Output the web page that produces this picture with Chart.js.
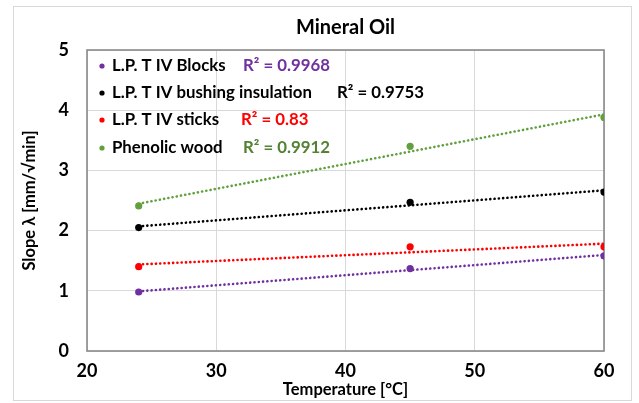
<!DOCTYPE html>
<html>
<head>
<meta charset="utf-8">
<script src="https://cdn.jsdelivr.net/npm/chart.js@4.4.1/dist/chart.umd.min.js"></script>
<style>
  html, body { margin: 0; padding: 0; background: #fff; }
  #frame {
    position: absolute; left: 13px; top: 6px; width: 619px; height: 395px;
    border: 1px solid #d9d9d9; box-sizing: border-box;
  }
  #wrap { position: absolute; left: 0; top: 0; width: 639px; height: 403px; }
</style>
</head>
<body>
<div id="frame"></div>
<div id="wrap"><canvas id="grafico" width="639" height="403"></canvas></div>
<script>
/* ===================== DATOS ===================== */

const temperaturas = [24, 45, 60];

const nombres = [
  "L.P. T IV Blocks",
  "L.P. T IV bushing insulation",
  "L.P. T IV sticks",
  "Phenolic wood"
];

const blocks   = [0.98, 1.37, 1.58];
const bushing  = [2.05, 2.47, 2.64];
const sticks   = [1.40, 1.73, 1.73];
const phenolic = [2.41, 3.40, 3.88];

const r2Labels = ["R² = 0.9968", "R² = 0.9753", "R² = 0.83", "R² = 0.9912"];

const xTicks = [20, 30, 40, 50, 60];
const yTicks = [0, 1, 2, 3, 4, 5];

/* ===================== ESTILO ===================== */

const colores   = ["#7030a0", "#000000", "#ff0000", "#62a03f"];
const coloresR2 = ["#7030a0", "#000000", "#ff0000", "#548235"];
const FUENTE = "Lato, 'Open Sans', sans-serif";

/* tendencia lineal (mínimos cuadrados, como Excel) */
function tendencia(xs, ys) {
  const n = xs.length;
  const mx = xs.reduce((a, b) => a + b, 0) / n;
  const my = ys.reduce((a, b) => a + b, 0) / n;
  let sxy = 0, sxx = 0;
  xs.forEach((x, i) => { sxy += (x - mx) * (ys[i] - my); sxx += (x - mx) ** 2; });
  const m = sxy / sxx;
  const b = my - m * mx;
  const x0 = xs[0], x1 = xs[n - 1];
  return [{ x: x0, y: m * x0 + b }, { x: x1, y: m * x1 + b }];
}

const series = [blocks, bushing, sticks, phenolic];

const datasets = [];
series.forEach((ys, i) => {
  datasets.push({
    type: "line",
    label: nombres[i] + " trend",
    data: tendencia(temperaturas, ys),
    borderColor: colores[i],
    borderWidth: 2.6,
    borderDash: [0.1, 4.2],
    borderCapStyle: "round",
    pointRadius: 0,
    fill: false,
    order: 2
  });
  datasets.push({
    type: "scatter",
    label: nombres[i],
    data: ys.map((y, k) => ({ x: temperaturas[k], y })),
    backgroundColor: colores[i],
    borderColor: colores[i],
    pointRadius: 3.6,
    pointBorderWidth: 0,
    order: 1
  });
});

/* ===================== PLUGINS ===================== */

const marco = {
  id: "marco",
  beforeDatasetsDraw(chart) {
    const { ctx, chartArea: a } = chart;
    ctx.save();
    ctx.strokeStyle = "#8a8a8a";
    ctx.lineWidth = 1.6;
    ctx.strokeRect(a.left, a.top, a.right - a.left, a.bottom - a.top);
    ctx.restore();
  }
};

const titulo = {
  id: "titulo",
  afterDraw(chart) {
    const { ctx, chartArea: a } = chart;
    ctx.save();
    ctx.fillStyle = "#000";
    ctx.textAlign = "center";
    ctx.textBaseline = "middle";
    ctx.font = "bold 20px " + FUENTE;
    ctx.fillText("Mineral Oil", (a.left + a.right) / 2, 28);
    ctx.restore();
  }
};

const leyenda = {
  id: "leyenda",
  afterDraw(chart) {
    const { ctx, chartArea: a } = chart;
    const filas = [66, 93, 120, 148];
    const r2x = [243, 337, 241, 243];
    ctx.save();
    ctx.textBaseline = "middle";
    ctx.font = "bold 16.8px " + FUENTE;
    nombres.forEach((n, i) => {
      ctx.fillStyle = colores[i];
      ctx.beginPath();
      ctx.arc(a.left + 15, filas[i], 2.6, 0, Math.PI * 2);
      ctx.fill();
      ctx.fillStyle = "#000";
      ctx.textAlign = "left";
      ctx.fillText(n, a.left + 25, filas[i]);
      ctx.fillStyle = coloresR2[i];
      ctx.fillText(r2Labels[i], r2x[i], filas[i]);
    });
    ctx.restore();
  }
};

/* ===================== GRÁFICO ===================== */

new Chart(document.getElementById("grafico"), {
  data: { datasets },
  options: {
    responsive: false,
    animation: false,
    layout: { padding: { left: 20, right: 35, top: 50, bottom: 3 } },
    plugins: {
      legend: { display: false },
      title: { display: false },
      tooltip: { enabled: false }
    },
    scales: {
      x: {
        type: "linear",
        min: xTicks[0],
        max: xTicks[xTicks.length - 1],
        afterBuildTicks: s => { s.ticks = xTicks.map(v => ({ value: v })); },
        grid: { color: "#d9d9d9", lineWidth: 1, drawTicks: false },
        border: { display: false },
        ticks: { color: "#000", font: { family: FUENTE, size: 18, weight: "bold" }, padding: 9 },
        title: {
          display: true, text: "Temperature [°C]", color: "#000",
          font: { family: FUENTE, size: 16.5, weight: "bold" }, padding: { top: -5, bottom: 0 }
        },
        afterFit: s => { s.height = 49; }
      },
      y: {
        type: "linear",
        min: yTicks[0],
        max: yTicks[yTicks.length - 1],
        afterBuildTicks: s => { s.ticks = yTicks.map(v => ({ value: v })); },
        grid: { color: "#d9d9d9", lineWidth: 1, drawTicks: false },
        border: { display: false },
        ticks: { color: "#000", font: { family: FUENTE, size: 18, weight: "bold" }, padding: 18 },
        title: {
          display: true, text: "Slope λ [mm/√min]", color: "#000",
          font: { family: FUENTE, size: 16.5, weight: "bold" }, padding: { top: 0, bottom: 4 }
        },
        afterFit: s => { s.width = 67; }
      }
    }
  },
  plugins: [marco, titulo, leyenda]
});
</script>
</body>
</html>
